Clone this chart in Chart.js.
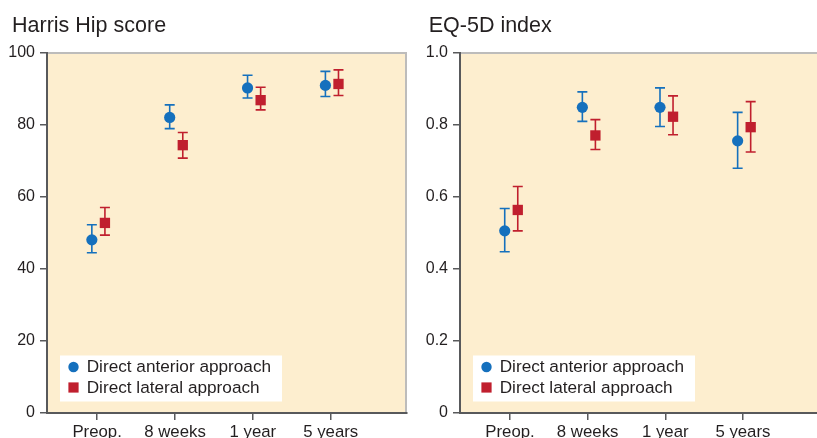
<!DOCTYPE html>
<html><head><meta charset="utf-8">
<script src="https://cdn.jsdelivr.net/npm/chart.js@4"></script>
<style>
html,body{margin:0;padding:0;background:#fff;overflow:hidden;width:817px;height:438px}
#left{position:absolute;left:0;top:0;width:408px;height:438px}
#right{position:absolute;left:408px;top:0;width:412px;height:438px}
</style></head><body>
<div id="left"><canvas id="c1" width="408" height="438"></canvas></div>
<div id="right"><canvas id="c2" width="412" height="438"></canvas></div>
<script>
const categories = ['Preop.', '8 weeks', '1 year', '5 years'];
const seriesNames = ['Direct anterior approach', 'Direct lateral approach'];

const harrisAnterior     = [48.1, 82.1, 90.3, 91.0];
const harrisAnteriorLow  = [44.5, 79.0, 87.5, 87.9];
const harrisAnteriorHigh = [52.3, 85.6, 93.8, 94.9];
const harrisLateral      = [52.8, 74.4, 86.9, 91.4];
const harrisLateralLow   = [49.4, 70.8, 84.2, 88.2];
const harrisLateralHigh  = [57.1, 77.9, 90.5, 95.3];

const eqAnterior     = [0.506, 0.849, 0.849, 0.756];
const eqAnteriorLow  = [0.448, 0.810, 0.796, 0.680];
const eqAnteriorHigh = [0.568, 0.892, 0.903, 0.835];
const eqLateral      = [0.564, 0.771, 0.823, 0.794];
const eqLateralLow   = [0.506, 0.732, 0.773, 0.725];
const eqLateralHigh  = [0.629, 0.815, 0.881, 0.865];

const harrisTicks = [0, 20, 40, 60, 80, 100];
const eqTicks = [0, 0.2, 0.4, 0.6, 0.8, 1.0];

const BLUE = '#1570bd';
const RED = '#c01f2e';
const TEXT = '#231f20';
const AXIS = '#58595b';
const FONT = "'Liberation Sans', Arial, Helvetica, sans-serif";

const errorBars = {
  id: 'errorBars',
  beforeDatasetsDraw(chart) {
    const ctx = chart.ctx;
    const ys = chart.scales.y;
    chart.data.datasets.forEach((ds, di) => {
      const meta = chart.getDatasetMeta(di);
      ctx.save();
      ctx.strokeStyle = ds.backgroundColor;
      ctx.lineWidth = 1.6;
      meta.data.forEach((pt, i) => {
        const x = pt.x;
        const yl = ys.getPixelForValue(ds.errLow[i]);
        const yh = ys.getPixelForValue(ds.errHigh[i]);
        ctx.beginPath();
        ctx.moveTo(x, yl); ctx.lineTo(x, yh);
        ctx.moveTo(x - 5, yl); ctx.lineTo(x + 5, yl);
        ctx.moveTo(x - 5, yh); ctx.lineTo(x + 5, yh);
        ctx.stroke();
      });
      ctx.restore();
    });
  }
};

const panelBg = {
  id: 'panelBg',
  beforeDraw(chart) {
    const {ctx, chartArea: a} = chart;
    ctx.save();
    ctx.fillStyle = '#fdeecf';
    ctx.fillRect(a.left, a.top, a.right - a.left, a.bottom - a.top);
    ctx.strokeStyle = '#bdbcbb';
    ctx.lineWidth = 2;
    ctx.beginPath();
    ctx.moveTo(a.left, a.top); ctx.lineTo(a.right - 1, a.top); ctx.lineTo(a.right - 1, a.bottom);
    ctx.stroke();
    ctx.restore();
  }
};

const panelTitle = {
  id: 'panelTitle',
  afterDraw(chart, args, opts) {
    const ctx = chart.ctx;
    ctx.save();
    ctx.fillStyle = TEXT;
    ctx.font = '21.5px ' + FONT;
    ctx.textBaseline = 'alphabetic';
    ctx.textAlign = 'left';
    ctx.fillText(opts.text, opts.x, 32);
    ctx.restore();
  }
};

const boxLegend = {
  id: 'boxLegend',
  afterDraw(chart) {
    const {ctx, chartArea: a} = chart;
    const bx = a.left + 13, bw = 222, bh = 46;
    const by = a.bottom - 11.5 - bh;
    ctx.save();
    ctx.fillStyle = '#ffffff';
    ctx.fillRect(bx, by, bw, bh);
    chart.data.datasets.forEach((ds, i) => {
      const cy = by + 11.5 + i * 20.5;
      const cx = bx + 13.5;
      ctx.fillStyle = ds.backgroundColor;
      if (ds.pointStyle === 'circle') {
        ctx.beginPath(); ctx.arc(cx, cy, 5.2, 0, Math.PI * 2); ctx.fill();
      } else {
        ctx.fillRect(cx - 5.1, cy - 5.1, 10.2, 10.2);
      }
      ctx.fillStyle = TEXT;
      ctx.font = '17.2px ' + FONT;
      ctx.textBaseline = 'middle';
      ctx.textAlign = 'left';
      ctx.fillText(ds.label, bx + 26.7, cy + 0.6);
    });
    ctx.restore();
  }
};

function makeChart(id, title, titleX, a, aLo, aHi, l, lLo, lHi, yTicks, yMax, fmt, yWidth) {
  return new Chart(document.getElementById(id), {
    type: 'scatter',
    data: {
      datasets: [
        { label: seriesNames[0], data: a.map((v, i) => ({x: i + 1 - 0.068, y: v})),
          errLow: aLo, errHigh: aHi, backgroundColor: BLUE, borderWidth: 0,
          pointStyle: 'circle', pointRadius: 5.6, pointHoverRadius: 5.6 },
        { label: seriesNames[1], data: l.map((v, i) => ({x: i + 1 + 0.1, y: v})),
          errLow: lLo, errHigh: lHi, backgroundColor: RED, borderWidth: 0,
          pointStyle: 'rect', pointRadius: 7.3, pointHoverRadius: 7.3 }
      ]
    },
    options: {
      responsive: false,
      animation: false,
      devicePixelRatio: 1,
      layout: { autoPadding: false, padding: { left: 0, right: 1, top: 53, bottom: 0 } },
      plugins: {
        legend: { display: false },
        tooltip: { enabled: false },
        title: { display: false },
        panelTitle: { text: title, x: titleX }
      },
      scales: {
        x: {
          type: 'linear', min: 0.356, max: 4.98,
          afterBuildTicks: s => { s.ticks = categories.map((c, i) => ({value: i + 1})); },
          afterFit: s => { s.height = 25; s.paddingLeft = 0; s.paddingRight = 0; },
          ticks: { callback: v => categories[v - 1], color: TEXT, autoSkip: false, maxRotation: 0,
                   padding: 2, font: { family: FONT, size: 16.8 } },
          grid: { drawOnChartArea: false, drawTicks: true, tickLength: 7, color: AXIS, lineWidth: 1.5 },
          border: { display: true, color: AXIS, width: 2 }
        },
        y: {
          min: 0, max: yMax,
          afterBuildTicks: s => { s.ticks = yTicks.map(v => ({value: v})); },
          afterFit: s => { s.width = yWidth; s.paddingTop = 0; s.paddingBottom = 0; },
          ticks: { callback: fmt, color: TEXT, padding: 5, font: { family: FONT, size: 16 } },
          grid: { drawOnChartArea: false, drawTicks: true, tickLength: 7, color: AXIS, lineWidth: 1.5 },
          border: { display: true, color: AXIS, width: 2 }
        }
      }
    },
    plugins: [panelBg, errorBars, boxLegend, panelTitle]
  });
}

makeChart('c1', 'Harris Hip score', 12, harrisAnterior, harrisAnteriorLow, harrisAnteriorHigh,
  harrisLateral, harrisLateralLow, harrisLateralHigh, harrisTicks, 100, v => String(v), 47);
makeChart('c2', 'EQ-5D index', 20.7, eqAnterior, eqAnteriorLow, eqAnteriorHigh,
  eqLateral, eqLateralLow, eqLateralHigh, eqTicks, 1, v => (v === 0 ? '0' : v.toFixed(1)), 52);
</script>
</body></html>
